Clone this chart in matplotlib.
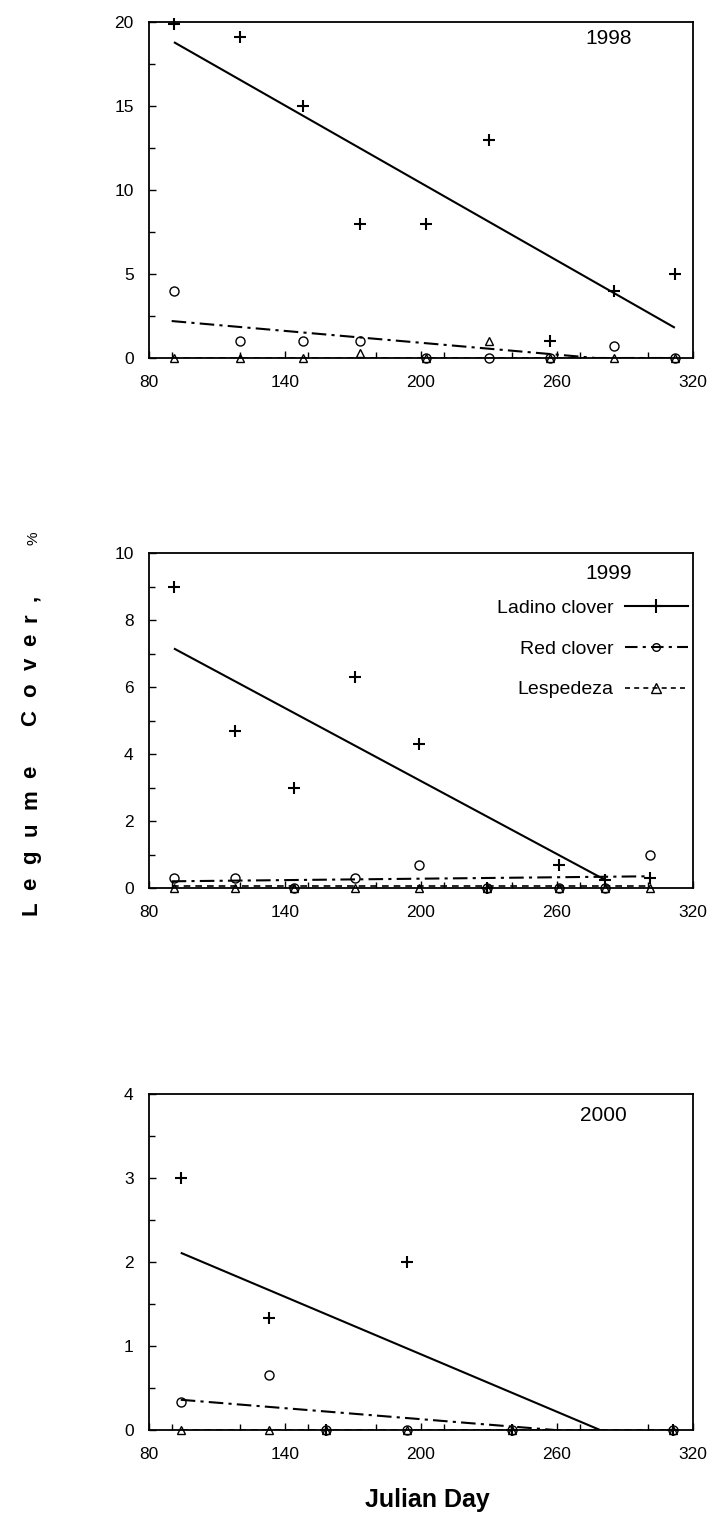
import matplotlib
matplotlib.use("Agg")
import matplotlib.pyplot as plt
from matplotlib.ticker import MultipleLocator
from matplotlib.lines import Line2D

plt.rcParams['font.family'] = ['Liberation Sans', 'DejaVu Sans']

# ---------------- data ----------------
years = ["1998", "1999", "2000"]

# 1998
days_98 = [91, 120, 148, 173, 202, 230, 257, 285, 312]
ladino_98 = [19.9, 19.1, 15.0, 8.0, 8.0, 13.0, 1.0, 4.0, 5.0]
red_98 = [4.0, 1.0, 1.0, 1.0, 0.0, 0.0, 0.0, 0.7, 0.0]
lesp_98 = [0.0, 0.0, 0.0, 0.3, 0.0, 1.0, 0.0, 0.0, 0.0]
ladino_fit_x_98 = [91, 312]
ladino_fit_y_98 = [18.8, 1.8]
red_fit_x_98 = [90, 277, 312]
red_fit_y_98 = [2.2, 0.0, 0.0]
lesp_fit_x_98 = [90, 312]
lesp_fit_y_98 = [0.0, 0.0]

# 1999
days_99 = [91, 118, 144, 171, 199, 229, 261, 281, 301]
ladino_99 = [9.0, 4.7, 3.0, 6.3, 4.3, 0.0, 0.7, 0.25, 0.3]
red_99 = [0.3, 0.3, 0.0, 0.3, 0.7, 0.0, 0.0, 0.0, 1.0]
lesp_99 = [0.0, 0.0, 0.0, 0.0, 0.0, 0.0, 0.0, 0.0, 0.0]
ladino_fit_x_99 = [91, 281]
ladino_fit_y_99 = [7.15, 0.25]
red_fit_x_99 = [90, 301]
red_fit_y_99 = [0.2, 0.35]
lesp_fit_x_99 = [90, 301]
lesp_fit_y_99 = [0.05, 0.05]

# 2000
days_00 = [94, 133, 158, 194, 240, 311]
ladino_00 = [3.0, 1.33, 0.0, 2.0, 0.0, 0.0]
red_00 = [0.33, 0.66, 0.0, 0.0, 0.0, 0.0]
lesp_00 = [0.0, 0.0, 0.0, 0.0, 0.0, 0.0]
ladino_fit_x_00 = [94, 279]
ladino_fit_y_00 = [2.11, 0.0]
red_fit_x_00 = [94, 259]
red_fit_y_00 = [0.36, 0.0]
lesp_fit_x_00 = [94, 311]
lesp_fit_y_00 = [0.0, 0.0]

y_max = [20, 10, 4]
y_major = [5, 2, 1]
y_minor = [2.5, 1, 0.5]
x_ticks = [80, 140, 200, 260, 320]
series_names = ["Ladino clover", "Red clover", "Lespedeza"]

panels = [
    (days_98, ladino_98, red_98, lesp_98, ladino_fit_x_98, ladino_fit_y_98,
     red_fit_x_98, red_fit_y_98, lesp_fit_x_98, lesp_fit_y_98),
    (days_99, ladino_99, red_99, lesp_99, ladino_fit_x_99, ladino_fit_y_99,
     red_fit_x_99, red_fit_y_99, lesp_fit_x_99, lesp_fit_y_99),
    (days_00, ladino_00, red_00, lesp_00, ladino_fit_x_00, ladino_fit_y_00,
     red_fit_x_00, red_fit_y_00, lesp_fit_x_00, lesp_fit_y_00),
]

# ---------------- figure ----------------
W, H = 725, 1521
fig = plt.figure(figsize=(W / 100, H / 100), dpi=100)
fig.patch.set_facecolor("white")

boxes_px = [(149, 22, 693, 358), (149, 553, 693, 888), (149, 1094, 693, 1430)]
year_pos = [(0.845, 0.952), (0.845, 0.94), (0.835, 0.937)]

lw = 1.5
for i, (box, data) in enumerate(zip(boxes_px, panels)):
    l, t, r, b = box
    ax = fig.add_axes([l / W, 1 - b / H, (r - l) / W, (b - t) / H])
    (d, lad, red, les, lfx, lfy, rfx, rfy, sfx, sfy) = data

    ax.plot(lfx, lfy, color="black", lw=lw, ls="-", solid_capstyle="butt")
    ax.plot(rfx, rfy, color="black", lw=lw, ls=(0, (7, 2.5, 1.5, 2.5)))
    ax.plot(sfx, sfy, color="black", lw=1.2, ls=(0, (4, 3)))

    ax.plot(d, lad, ls="none", marker="+", ms=8.5, mew=1.5, color="black",
            clip_on=False, zorder=5)
    ax.plot(d, red, ls="none", marker="o", ms=6.5, mew=1.0, mfc="none",
            mec="black", clip_on=False, zorder=5)
    ax.plot(d, les, ls="none", marker="^", ms=5.5, mew=1.0, mfc="none",
            mec="black", clip_on=False, zorder=5)

    ax.set_xlim(80, 320)
    ax.set_ylim(0, y_max[i])
    ax.set_xticks(x_ticks)
    ax.xaxis.set_minor_locator(MultipleLocator(30))
    ax.yaxis.set_major_locator(MultipleLocator(y_major[i]))
    ax.yaxis.set_minor_locator(MultipleLocator(y_minor[i]))
    ax.tick_params(axis="both", which="both", direction="in", top=False,
                   right=False, labelsize=12.5, width=1.0)
    ax.tick_params(axis="both", which="major", length=5)
    ax.tick_params(axis="x", which="major", pad=12)
    ax.tick_params(axis="y", which="major", pad=11)
    ax.tick_params(axis="both", which="minor", length=4)
    for s in ax.spines.values():
        s.set_linewidth(1.3)

    ax.text(year_pos[i][0], year_pos[i][1], years[i], transform=ax.transAxes,
            ha="center", va="center", fontsize=15)

    if i == 1:
        handles = [
            Line2D([], [], color="black", lw=lw, ls="-", marker="+", ms=10, mew=1.5),
            Line2D([], [], color="black", lw=lw, ls=(0, (6, 2.5, 1.5, 2.5)),
                   marker="o", ms=5.5, mfc="none"),
            Line2D([], [], color="black", lw=1.2, ls=(0, (3, 2.5)),
                   marker="^", ms=7.5, mfc="none"),
        ]
        ax.legend(handles, series_names, loc="upper left",
                  bbox_to_anchor=((497 - l) / (r - l), 1 - (599 - t) / (b - t)),
                  frameon=False, markerfirst=False, fontsize=14,
                  handlelength=3.2, handletextpad=0.6, labelspacing=1.2,
                  borderpad=0, borderaxespad=0)

# x label
fig.text(427 / W, 1 - 1500 / H, "Julian Day", ha="center", va="center",
         fontsize=18, fontweight="bold")

# y label, letter spaced
ylabel_chars = ["L", "e", "g", "u", "m", "e", "C", "o", "v", "e", "r", ","]
ylabel_ypx = [908, 884, 857, 829, 799, 772, 718, 690, 664, 640, 618, 598]
for ch, ypx in zip(ylabel_chars, ylabel_ypx):
    fig.text(31 / W, 1 - ypx / H, ch, rotation=90, ha="center", va="center",
             fontsize=16, fontweight="bold")
fig.text(33 / W, 1 - 538 / H, "%", rotation=90, ha="center", va="center",
         fontsize=11)

fig.savefig("out.png", dpi=100, facecolor="white")
